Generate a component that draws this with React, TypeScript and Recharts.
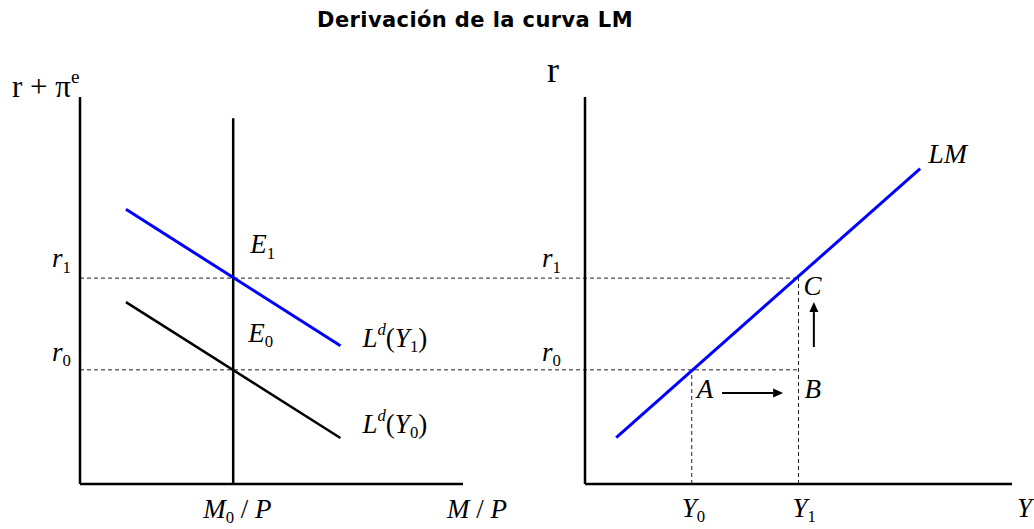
import React from "react";
import {
  ComposedChart,
  Line,
  XAxis,
  YAxis,
  ReferenceLine,
  ReferenceDot,
} from "recharts";

// both panels share the same 0..10 units on each axis
const axisMax = 10;

// interest rates (shared by both panels)
const r0 = 2.95;
const r1 = 5.32;

// left panel: money market
const moneySupply = 4; // M0/P
const moneySupplyTop = 9.45;
const demandY1 = [
  { x: 1.2, y: 7.1 },
  { x: 6.8, y: 3.57 },
];
const demandY0 = [
  { x: 1.2, y: 4.7 },
  { x: 6.8, y: 1.19 },
];

// right panel: LM curve
const output0 = 2.5; // Y0
const output1 = 5; // Y1
const lmCurve = [
  { x: 0.73, y: 1.2 },
  { x: 7.85, y: 8.15 },
];
const moveRight = [
  { x: 3.21, y: 2.35 },
  { x: 4.64, y: 2.35 },
];
const moveUp = [
  { x: 5.36, y: 3.54 },
  { x: 5.36, y: 4.7 },
];

const supplyLine = [
  { x: moneySupply, y: 0 },
  { x: moneySupply, y: moneySupplyTop },
];

// layout
const H = 529;
const TOP = 97;
const XAXIS_H = 45;
const LEFT_W = 520;
const LEFT_AXIS_W = 80;
const LEFT_PAD = 57;
const RIGHT_W = 514;
const RIGHT_AXIS_W = 65;
const RIGHT_PAD = 22;

const leftPlotW = LEFT_W - LEFT_AXIS_W - LEFT_PAD;
const rightPlotW = RIGHT_W - RIGHT_AXIS_W - RIGHT_PAD;
// data x where each panel's svg edge is, so the dashed rates run across
const leftEdge = (axisMax * (LEFT_W - LEFT_AXIS_W)) / leftPlotW;
const rightEdge = (-axisMax * RIGHT_AXIS_W) / rightPlotW;

const SERIF = '"Liberation Serif", "Times New Roman", serif';

type Piece = { t: string; i?: boolean; sub?: boolean; sup?: boolean };

const MathText = ({
  x,
  y,
  pieces,
  size = 27,
}: {
  x: number;
  y: number;
  pieces: Piece[];
  size?: number;
}) => {
  let shift = 0;
  return (
    <text
      x={x}
      y={y}
      fontFamily={SERIF}
      fontSize={size}
      fill="#000"
      style={{ whiteSpace: "pre" }}
    >
      {pieces.map((p, k) => {
        const target = p.sub ? size * 0.2 : p.sup ? -size * 0.45 : 0;
        const dy = target - shift;
        shift = target;
        return (
          <tspan
            key={k}
            dy={dy}
            fontStyle={p.i ? "italic" : "normal"}
            fontSize={p.sub || p.sup ? size * 0.62 : size}
          >
            {p.t}
          </tspan>
        );
      })}
    </text>
  );
};

const note = (
  x: number,
  y: number,
  dx: number,
  dy: number,
  pieces: Piece[],
  size?: number
) => (
  <ReferenceDot
    key={pieces.map((p) => p.t).join("") + x + y}
    x={x}
    y={y}
    r={0}
    ifOverflow="visible"
    shape={(p: any) => (
      <MathText x={p.cx + dx} y={p.cy + dy} pieces={pieces} size={size} />
    )}
  />
);

const Arrow = (p: any) => {
  const { x1, y1, x2, y2 } = p;
  const a = Math.atan2(y2 - y1, x2 - x1);
  const len = 10;
  const w = 4.5;
  const bx = x2 - len * Math.cos(a);
  const by = y2 - len * Math.sin(a);
  const pts = [
    [x2, y2],
    [bx - w * Math.sin(a), by + w * Math.cos(a)],
    [bx + w * Math.sin(a), by - w * Math.cos(a)],
  ]
    .map((q) => q.join(","))
    .join(" ");
  return (
    <g>
      <line x1={x1} y1={y1} x2={bx} y2={by} stroke="#000" strokeWidth={2} />
      <polygon points={pts} fill="#000" />
    </g>
  );
};

const axisLine = { stroke: "#000", strokeWidth: 2.5 };
const dashed = { stroke: "#222", strokeWidth: 1, strokeDasharray: "4 3" };

const MoneyMarket = () => (
  <ComposedChart
    width={LEFT_W}
    height={H}
    margin={{ top: TOP, right: LEFT_PAD, bottom: 0, left: 0 }}
  >
    <XAxis
      type="number"
      dataKey="x"
      domain={[0, axisMax]}
      allowDataOverflow
      tick={false}
      tickLine={false}
      axisLine={axisLine}
      height={XAXIS_H}
    />
    <YAxis
      type="number"
      dataKey="y"
      domain={[0, axisMax]}
      allowDataOverflow
      tick={false}
      tickLine={false}
      axisLine={axisLine}
      width={LEFT_AXIS_W}
    />
    <ReferenceLine
      segment={[
        { x: 0, y: r1 },
        { x: leftEdge, y: r1 },
      ]}
      ifOverflow="visible"
      {...dashed}
    />
    <ReferenceLine
      segment={[
        { x: 0, y: r0 },
        { x: leftEdge, y: r0 },
      ]}
      ifOverflow="visible"
      {...dashed}
    />
    <Line
      data={supplyLine}
      dataKey="y"
      stroke="#000"
      strokeWidth={2.5}
      dot={false}
      isAnimationActive={false}
    />
    <Line
      data={demandY1}
      dataKey="y"
      stroke="#0000ff"
      strokeWidth={3}
      dot={false}
      isAnimationActive={false}
    />
    <Line
      data={demandY0}
      dataKey="y"
      stroke="#000"
      strokeWidth={2.5}
      dot={false}
      isAnimationActive={false}
    />
    {note(0, axisMax, -68, 0, [{ t: "r + π" }, { t: "e", sup: true }], 31)}
    {note(0, r1, -28, -11, [{ t: "r", i: true }, { t: "1", sub: true }])}
    {note(0, r0, -28, -9, [{ t: "r", i: true }, { t: "0", sub: true }])}
    {note(moneySupply, r1, 17, -25, [{ t: "E", i: true }, { t: "1", sub: true }])}
    {note(moneySupply, r0, 15, -28, [{ t: "E", i: true }, { t: "0", sub: true }])}
    {note(demandY1[1].x, demandY1[1].y, 22, 1, [
      { t: "L", i: true },
      { t: "d", i: true, sup: true },
      { t: "(" },
      { t: "Y", i: true },
      { t: "1", sub: true },
      { t: ")" },
    ])}
    {note(demandY0[1].x, demandY0[1].y, 22, -5, [
      { t: "L", i: true },
      { t: "d", i: true, sup: true },
      { t: "(" },
      { t: "Y", i: true },
      { t: "0", sub: true },
      { t: ")" },
    ])}
    {note(moneySupply, 0, -30, 34, [
      { t: "M", i: true },
      { t: "0", sub: true },
      { t: " / " },
      { t: "P", i: true },
    ])}
    {note(axisMax, 0, -16, 34, [
      { t: "M", i: true },
      { t: " / " },
      { t: "P", i: true },
    ])}
  </ComposedChart>
);

const LmPanel = () => (
  <ComposedChart
    width={RIGHT_W}
    height={H}
    margin={{ top: TOP, right: RIGHT_PAD, bottom: 0, left: 0 }}
  >
    <XAxis
      type="number"
      dataKey="x"
      domain={[0, axisMax]}
      allowDataOverflow
      tick={false}
      tickLine={false}
      axisLine={axisLine}
      height={XAXIS_H}
    />
    <YAxis
      type="number"
      dataKey="y"
      domain={[0, axisMax]}
      allowDataOverflow
      tick={false}
      tickLine={false}
      axisLine={axisLine}
      width={RIGHT_AXIS_W}
    />
    <ReferenceLine
      segment={[
        { x: rightEdge, y: r1 },
        { x: output1, y: r1 },
      ]}
      ifOverflow="visible"
      {...dashed}
    />
    <ReferenceLine
      segment={[
        { x: rightEdge, y: r0 },
        { x: output1, y: r0 },
      ]}
      ifOverflow="visible"
      {...dashed}
    />
    <ReferenceLine
      segment={[
        { x: output0, y: 0 },
        { x: output0, y: r0 },
      ]}
      ifOverflow="visible"
      {...dashed}
    />
    <ReferenceLine
      segment={[
        { x: output1, y: 0 },
        { x: output1, y: r1 },
      ]}
      ifOverflow="visible"
      {...dashed}
    />
    <Line
      data={lmCurve}
      dataKey="y"
      stroke="#0000ff"
      strokeWidth={3}
      dot={false}
      isAnimationActive={false}
    />
    <ReferenceLine segment={moveRight} ifOverflow="visible" shape={Arrow} />
    <ReferenceLine segment={moveUp} ifOverflow="visible" shape={Arrow} />
    {note(0, axisMax, -38, -15, [{ t: "r" }], 36)}
    {note(0, r1, -43, -11, [{ t: "r", i: true }, { t: "1", sub: true }])}
    {note(0, r0, -43, -9, [{ t: "r", i: true }, { t: "0", sub: true }])}
    {note(lmCurve[1].x, lmCurve[1].y, 8, -6, [{ t: "LM", i: true }], 28)}
    {note(output1, r1, 5, 17, [{ t: "C", i: true }])}
    {note(output0, r0, 5, 28, [{ t: "A", i: true }])}
    {note(output1, r0, 6, 28, [{ t: "B", i: true }])}
    {note(output0, 0, -10, 33, [{ t: "Y", i: true }, { t: "0", sub: true }])}
    {note(output1, 0, -6, 33, [{ t: "Y", i: true }, { t: "1", sub: true }])}
    {note(axisMax, 0, 5, 33, [{ t: "Y", i: true }])}
  </ComposedChart>
);

export default function App() {
  return (
    <div
      style={{
        position: "absolute",
        left: 0,
        top: 0,
        width: 1034,
        height: H,
        background: "#fff",
        overflow: "hidden",
      }}
    >
      <div
        style={{
          position: "absolute",
          left: 0,
          top: 10,
          width: 950,
          textAlign: "center",
          fontFamily: '"DejaVu Sans", Verdana, sans-serif',
          fontWeight: "bold",
          fontSize: 21,
          lineHeight: "21px",
          letterSpacing: "0.4px",
          color: "#000",
        }}
      >
        Derivación de la curva LM
      </div>
      <div style={{ position: "absolute", left: 0, top: 0 }}>
        <MoneyMarket />
      </div>
      <div style={{ position: "absolute", left: LEFT_W, top: 0 }}>
        <LmPanel />
      </div>
    </div>
  );
}
